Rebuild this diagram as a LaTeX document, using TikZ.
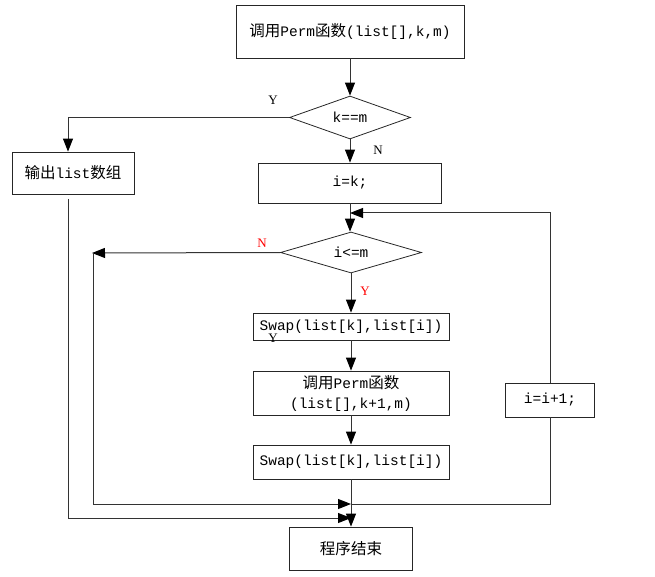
\documentclass[tikz,border=0pt]{standalone}
\usepackage{fontspec}
\setmainfont{Liberation Mono}
\newfontfamily\cjk[Scale=1.07]{Noto Sans CJK SC}
\newfontfamily\labfont{Liberation Serif}
\newcommand\zhs[1]{{\cjk #1}}
\usetikzlibrary{shapes.geometric,arrows.meta}
\begin{document}
\begin{tikzpicture}[x=1pt,y=-1pt,
  box/.style={draw=black!85,line width=0.8pt,rectangle,inner sep=0pt,font=\fontsize{14.5}{20}\selectfont,align=center},
  dia/.style={draw=black!85,line width=0.8pt,diamond,aspect=3,inner sep=0pt,font=\fontsize{14.5}{20}\selectfont},
  conn/.style={draw=black!80,line width=1pt},
  arr/.style={conn,-{Triangle[length=13pt,width=10pt,color=black]}},
  lab/.style={font=\labfont\fontsize{13}{14}\selectfont,inner sep=0pt}]
\useasboundingbox (0,0) rectangle (655,577);
\node[box,minimum width=228pt,minimum height=53pt] (start) at (350,31.5) {\zhs{调用}Perm\zhs{函数}(list[],k,m)};
\node[dia,minimum width=121pt,minimum height=43pt] (d1) at (350,117.5) {k==m};
\node[box,minimum width=122pt,minimum height=42pt] (out) at (73,173) {\zhs{输出}list\zhs{数组}};
\node[box,minimum width=183pt,minimum height=40pt] (ik) at (350,183) {i=k;};
\node[dia,minimum width=141pt,minimum height=41pt] (d2) at (351,252.5) {i<=m};
\node[box,minimum width=196pt,minimum height=27pt] (sw1) at (351,326.5) {Swap(list[k],list[i])};
\node[box,minimum width=196pt,minimum height=44pt] (perm) at (351,393) {\zhs{调用}Perm\zhs{函数}\\(list[],k+1,m)};
\node[box,minimum width=196pt,minimum height=34pt] (sw2) at (351,462) {Swap(list[k],list[i])};
\node[box,minimum width=89pt,minimum height=34pt] (inc) at (550,400) {i=i+1;};
\node[box,minimum width=123pt,minimum height=43pt] (end) at (351,548.5) {\zhs{程序结束}};
% labels
\node[lab] (ly1) at (273,100) {Y};
\node[lab] (ln1) at (378,150) {N};
\node[lab,text=red] (ln2) at (262,243) {N};
\node[lab,text=red] (ly2) at (365,291) {Y};
\node[lab] (ly3) at (273,338) {Y};
% coordinates
\coordinate (j1) at (350,213);
\coordinate (nl) at (92,253);
\coordinate (nb) at (93,504);
\coordinate (j2) at (351,504);
\coordinate (ob) at (68,199);
\coordinate (oc) at (68,518);
\coordinate (j3) at (351,518);
% connectors
\draw[arr] (start.south) -- (d1.north);
\draw[arr] (d1.west) -| ([xshift=-5pt]out.north);
\draw[arr] (d1.south) -- (ik.north);
\draw[arr] (ik.south) -- (ik.south |- d2.north);
\draw[arr] (inc.north) |- (j1);
\draw[arr] (d2.west) -- (nl);
\draw[arr] (d2.south) -- (sw1.north);
\draw[arr] (sw1.south) -- (perm.north);
\draw[arr] (perm.south) -- (sw2.north);
\draw[arr] (sw2.south) -- (end.north);
\draw[arr] (93,253) -- (nb) -- (j2);
\draw[conn] (j2) -| (inc.south);
\draw[arr] (ob) -- (oc) -- (j3);
\end{tikzpicture}
\end{document}
